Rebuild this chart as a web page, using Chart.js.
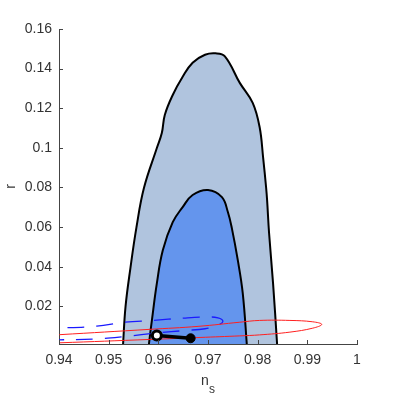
<!DOCTYPE html>
<html><head><meta charset="utf-8">
<script src="https://cdn.jsdelivr.net/npm/chart.js@4/dist/chart.umd.min.js"></script>
<style>html,body{margin:0;padding:0;background:#fff}#wrap{width:395px;height:395px}</style>
</head><body><div id="wrap"><canvas id="c" width="395" height="395"></canvas></div>
<script>
const xTicks = [0.94, 0.95, 0.96, 0.97, 0.98, 0.99, 1];
const xTickLabels = ['0.94', '0.95', '0.96', '0.97', '0.98', '0.99', '1'];
const yTicks = [0.02, 0.04, 0.06, 0.08, 0.10, 0.12, 0.14, 0.16];
const yTickLabels = ['0.02', '0.04', '0.06', '0.08', '0.1', '0.12', '0.14', '0.16'];

// 95% contour (outer)
const outerNs = [0.9529, 0.9529, 0.9534, 0.9544, 0.9556, 0.9571, 0.9597, 0.9607, 0.9613, 0.9629, 0.9649, 0.9669, 0.9694, 0.9715, 0.9734, 0.9764, 0.9790, 0.9804, 0.9811, 0.9817, 0.9819, 0.9823, 0.9831, 0.9839, 0.9839];
const outerR  = [0.0,    0.0008, 0.0200, 0.0397, 0.0600, 0.0797, 0.0999, 0.1075, 0.1166, 0.1267, 0.1359, 0.1430, 0.1470, 0.1477, 0.1462, 0.1328, 0.1227, 0.1104, 0.0951, 0.0800, 0.0736, 0.0569, 0.0316, 0.0013, 0.0];
// 68% contour (inner)
const innerNs = [0.9581, 0.9581, 0.9587, 0.9597, 0.9609, 0.9629, 0.9649, 0.9669, 0.9700, 0.9728, 0.9740, 0.9748, 0.9760, 0.9770, 0.9778, 0.9778];
const innerR  = [0.0,    0.0008, 0.0129, 0.0316, 0.0483, 0.0625, 0.0701, 0.0762, 0.0787, 0.0751, 0.0676, 0.0595, 0.0433, 0.0266, 0.0013, 0.0];
// red ellipse
const redNs = [0.9300, 0.9401, 0.9583, 0.9680, 0.9764, 0.9804, 0.9865, 0.9911, 0.9929, 0.9911, 0.9865, 0.9804, 0.9764, 0.9684, 0.9583, 0.9401, 0.9300];
const redR  = [0.0042, 0.0057, 0.0084, 0.0099, 0.0120, 0.0129, 0.0129, 0.0122, 0.0109, 0.0090, 0.0070, 0.0056, 0.0051, 0.0043, 0.0033, 0.0016, 0.0008];
// blue dashed ellipse
const blueNs = [0.9300, 0.9401, 0.9476, 0.9533, 0.9589, 0.9651, 0.9694, 0.9720, 0.9730, 0.9720, 0.9694, 0.9653, 0.9599, 0.9533, 0.9476, 0.9401, 0.9300];
const blueR  = [0.0085, 0.0091, 0.0100, 0.0120, 0.0129, 0.0141, 0.0146, 0.0142, 0.0124, 0.0106, 0.0087, 0.0078, 0.0066, 0.0048, 0.0036, 0.0031, 0.0027];
// black segment
const pathNs = [0.9597, 0.9665];
const pathR  = [0.0053, 0.0039];

const pts = (xs, ys) => xs.map((v, i) => ({x: v, y: ys[i]}));
const FONT = '"Liberation Sans", Arial, sans-serif';
Chart.defaults.font.family = FONT;
Chart.defaults.font.size = 14;
Chart.defaults.color = '#333';

const axisDecor = {
  id: 'axisDecor',
  afterDraw(chart) {
    const {ctx, chartArea: a, scales: {x, y}} = chart;
    ctx.save();
    ctx.strokeStyle = '#444';
    ctx.lineWidth = 1;
    ctx.beginPath();
    xTicks.forEach(v => { const px = Math.round(x.getPixelForValue(v)) + 0.5; ctx.moveTo(px, a.bottom); ctx.lineTo(px, a.bottom - 4); });
    yTicks.forEach(v => { const py = Math.round(y.getPixelForValue(v)) + 0.5; ctx.moveTo(a.left, py); ctx.lineTo(a.left + 4, py); });
    ctx.stroke();
    ctx.fillStyle = '#333';
    ctx.textBaseline = 'alphabetic';
    ctx.textAlign = 'left';
    ctx.font = '14px ' + FONT;
    const wn = ctx.measureText('n').width;
    ctx.font = '12px ' + FONT;
    const ws = ctx.measureText('s').width;
    const cx = (a.left + a.right) / 2;
    const sx = cx - (wn + ws) / 2;
    ctx.font = '14px ' + FONT;
    ctx.fillText('n', sx, a.bottom + 41);
    ctx.font = '12px ' + FONT;
    ctx.fillText('s', sx + wn, a.bottom + 49);
    ctx.restore();
  }
};

new Chart(document.getElementById('c'), {
  type: 'scatter',
  data: {
    datasets: [
      {data: pts(pathNs, pathR), showLine: true, borderColor: '#000', borderWidth: 3.5, order: 0,
       pointRadius: [4.5, 4.5], pointBorderWidth: [3, 1], pointBackgroundColor: ['#fff', '#000'], pointBorderColor: '#000', clip: 0},
      {data: pts(redNs, redR), showLine: true, borderColor: '#ff2020', borderWidth: 1, tension: 0.4, pointRadius: 0, order: 1, clip: 0},
      {data: pts(blueNs, blueR), showLine: true, borderColor: '#1a1aff', borderWidth: 1.3, borderDash: [17, 12], tension: 0.4, pointRadius: 0, order: 2, clip: 0},
      {data: pts(innerNs, innerR), showLine: true, borderColor: '#000', borderWidth: 2, tension: 0.4, pointRadius: 0,
       fill: 'shape', backgroundColor: 'rgb(100,149,237)', order: 3, clip: 0},
      {data: pts(outerNs, outerR), showLine: true, borderColor: '#000', borderWidth: 2, tension: 0.4, pointRadius: 0,
       fill: 'shape', backgroundColor: 'rgb(176,196,222)', order: 4, clip: 0}
    ]
  },
  options: {
    responsive: false,
    animation: false,
    devicePixelRatio: 1,
    layout: {padding: {left: 0, top: 29, right: 38, bottom: 0}},
    elements: {line: {capBezierPoints: false}},
    plugins: {legend: {display: false}, tooltip: {enabled: false}},
    scales: {
      x: {
        type: 'linear', min: 0.94, max: 1, z: 1,
        afterBuildTicks: s => { s.ticks = xTicks.map(v => ({value: v})); },
        afterFit: s => { s.height = 51; },
        ticks: {padding: 8, color: '#333', font: {size: 14}, maxRotation: 0, callback: (v, i) => xTickLabels[i]},
        grid: {display: true, drawOnChartArea: false, drawTicks: false},
        border: {display: true, color: '#444', width: 1},
        title: {display: false}
      },
      y: {
        type: 'linear', min: 0.001, max: 0.16, z: 1,
        afterBuildTicks: s => { s.ticks = yTicks.map(v => ({value: v})); },
        afterFit: s => { s.width = 59; },
        ticks: {padding: 7, color: '#333', font: {size: 14}, callback: (v, i) => yTickLabels[i]},
        grid: {display: true, drawOnChartArea: false, drawTicks: false},
        border: {display: true, color: '#444', width: 1},
        title: {display: true, text: 'r', color: '#333', font: {size: 14}, padding: {top: 3, bottom: 0}}
      }
    }
  },
  plugins: [axisDecor]
});
</script></body></html>
